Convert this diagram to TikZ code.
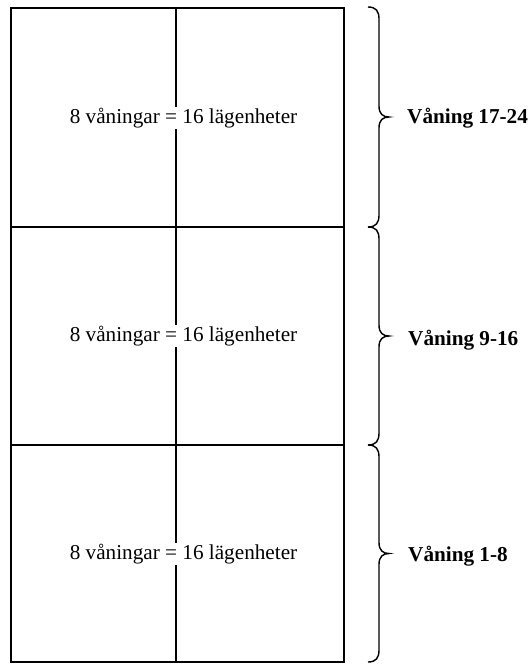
\documentclass[tikz,border=0pt]{standalone}
\usepackage{fontspec}
\setmainfont{Liberation Serif}
\begin{document}
\begin{tikzpicture}[x=1pt,y=-1pt,
  frame/.style={line width=1.4pt},
  bracepath/.style={line width=1.4pt},
  celltext/.style={anchor=base,font=\fontsize{21.2}{24}\selectfont,fill=white,inner sep=1pt},
  sidelabel/.style={anchor=base west,font=\fontsize{21.2}{24}\selectfont\bfseries,inner sep=0pt}]
\useasboundingbox (0,0) rectangle (531,664);
% building outline
\coordinate (tl) at (11,8);
\coordinate (br) at (344,662);
\draw[frame] (tl) rectangle (br);
\coordinate (mtop) at (176,8);
\coordinate (mbot) at (176,662);
\draw[frame] (mtop) -- (mbot);
\coordinate (h1l) at (11,227);
\coordinate (h1r) at (344,227);
\coordinate (h2l) at (11,445);
\coordinate (h2r) at (344,445);
\draw[frame] (h1l) -- (h1r);
\draw[frame] (h2l) -- (h2r);
% cell texts
\node[celltext] (t1) at (183.5,123) {8 våningar = 16 lägenheter};
\node[celltext] (t2) at (183.5,341) {8 våningar = 16 lägenheter};
\node[celltext] (t3) at (183.5,559) {8 våningar = 16 lägenheter};
% braces
\foreach \T/\B in {7/227, 227/445, 445/662}{
  \pgfmathsetmacro{\M}{(\T+\B)/2}
  \draw[bracepath] (368,\T) .. controls (376,\T) and (379,\T+4) .. (379,\T+12)
     -- (379,\M-11) .. controls (379,\M-3) and (383,\M) .. (389,\M)
     .. controls (383,\M) and (379,\M+3) .. (379,\M+11)
     -- (379,\B-12) .. controls (379,\B-4) and (376,\B) .. (368,\B);
}
% labels
\node[sidelabel] (l1) at (407,123) {Våning 17-24};
\node[sidelabel] (l2) at (408,345) {Våning 9-16};
\node[sidelabel] (l3) at (408,561) {Våning 1-8};
\end{tikzpicture}
\end{document}
